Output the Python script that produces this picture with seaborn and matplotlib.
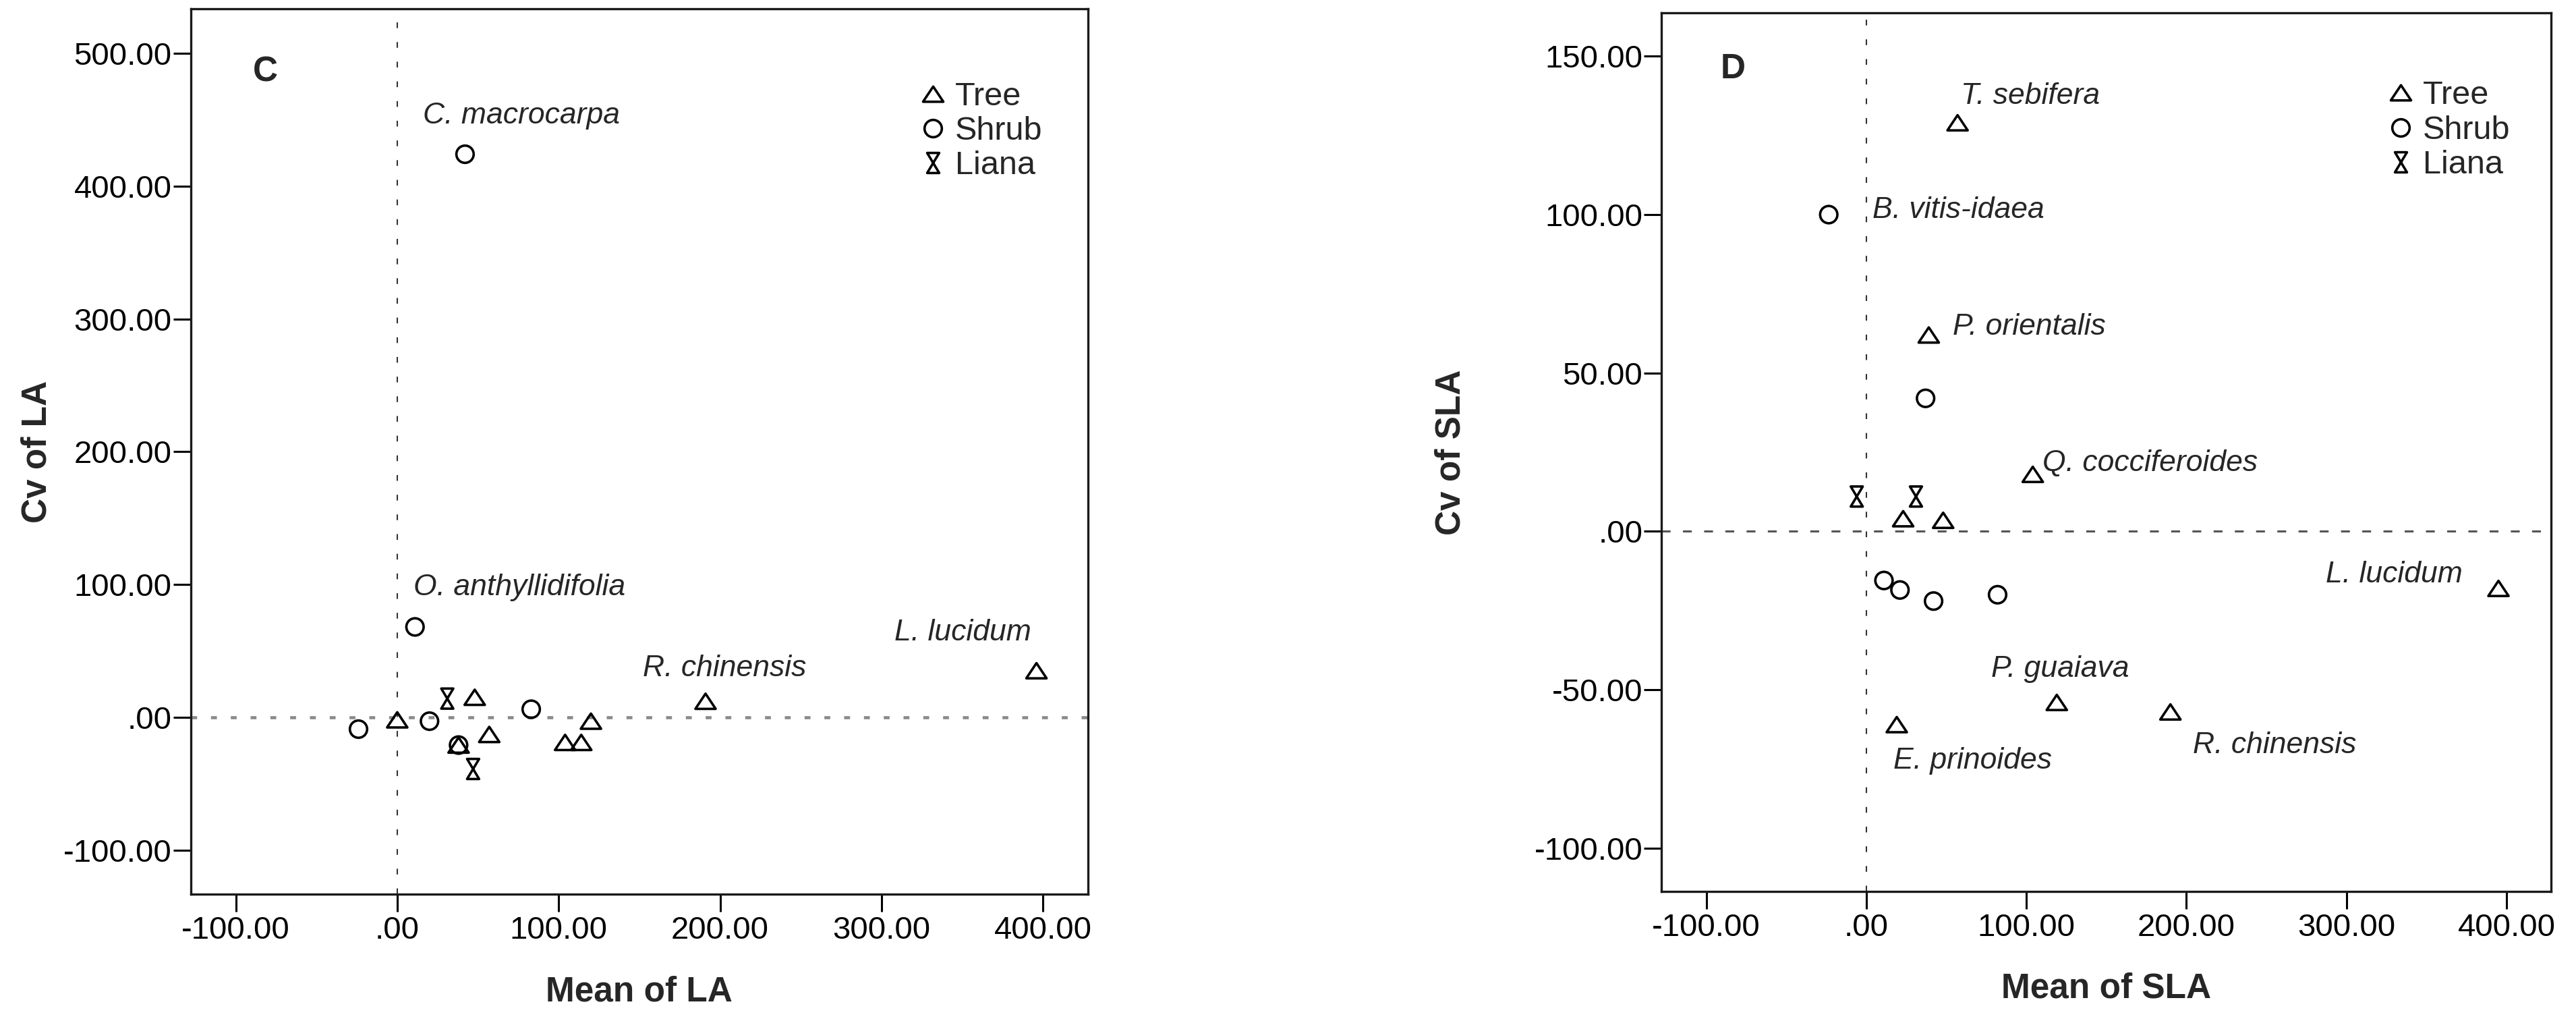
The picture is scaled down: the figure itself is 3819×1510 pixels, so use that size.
import numpy as np
import pandas as pd
import matplotlib
matplotlib.use("Agg")
import matplotlib.pyplot as plt
import seaborn as sns
from matplotlib.path import Path
from matplotlib.lines import Line2D
from matplotlib.ticker import FixedLocator, FuncFormatter

sns.set_theme(style="ticks")
plt.rcParams["font.family"] = ["Liberation Sans", "DejaVu Sans"]

# ---------------- data ----------------
growth_form = ["Tree"] * 9 + ["Shrub"] * 6 + ["Liana"] * 2

la_mean = [0, 48, 120, 57, 38, 104, 114, 191, 396,
           -24, 20, 83, 38, 11, 42,
           31, 47]
la_cv = [-2, 15, -3, -13, -21, -19, -19, 12, 35,
         -9, -3, 6, -21, 68, 424,
         14, -39]

sla_mean = [57, 39, 104, 23, 48, 395, 119, 190, 19,
            -23.5, 37, 11, 21, 42, 82,
            -6, 31]
sla_cv = [129, 62, 18, 4, 3.5, -18, -54, -57, -61,
          100, 42, -15.5, -18.5, -22, -20,
          11, 11]

la_labels = ["C. macrocarpa", "O. anthyllidifolia", "L. lucidum", "R. chinensis"]
la_label_x = [16, 10, 308, 152]
la_label_y = [447, 92, 58, 31]

sla_labels = ["T. sebifera", "B. vitis-idaea", "P. orientalis", "Q. cocciferoides",
              "L. lucidum", "P. guaiava", "R. chinensis", "E. prinoides"]
sla_label_x = [59, 4, 54, 110, 287, 78, 204, 17]
sla_label_y = [135, 99, 62, 19, -16, -46, -70, -75]

legend_order = ["Tree", "Shrub", "Liana"]
x_ticks = [-100, 0, 100, 200, 300, 400]
la_y_ticks = [-100, 0, 100, 200, 300, 400, 500]
sla_y_ticks = [-100, -50, 0, 50, 100, 150]

df_la = pd.DataFrame({"mean": la_mean, "cv": la_cv, "type": growth_form})
df_sla = pd.DataFrame({"mean": sla_mean, "cv": sla_cv, "type": growth_form})

# ---------------- markers ----------------
tri = Path([(-1, -0.75), (1, -0.75), (0, 0.75), (-1, -0.75)],
           [Path.MOVETO, Path.LINETO, Path.LINETO, Path.CLOSEPOLY])
hourglass = Path([(-0.6, 1), (0.6, 1), (-0.6, -1), (0.6, -1), (-0.6, 1)],
                 [Path.MOVETO, Path.LINETO, Path.LINETO, Path.LINETO, Path.CLOSEPOLY])
markers = {"Tree": tri, "Shrub": "o", "Liana": hourglass}
sizes = {"Tree": 470, "Shrub": 340, "Liana": 460}
mew = 2.6


def fmt(v, _):
    s = "%.2f" % v
    if s in ("0.00", "-0.00"):
        return ".00"
    return s


fig = plt.figure(figsize=(38.19, 15.10), dpi=100)
axL = fig.add_axes([0.0740, 0.1225, 0.3484, 0.8687])
axR = fig.add_axes([0.6450, 0.1254, 0.3454, 0.8620])


def draw(ax, df, ylim, yticks, xlabel, ylabel, letter, letter_pos,
         labels, lx, ly, hcolor, hlw, hdash, legend_anchor, ylab_x):
    ax.set_xlim(-128, 428)
    ax.set_ylim(*ylim)
    ax.axvline(0, color="#333333", lw=1.5, dashes=(4.1, 9.9), zorder=1)
    ax.axhline(0, color=hcolor, lw=hlw, dashes=hdash, zorder=1)
    sns.scatterplot(data=df, x="mean", y="cv", style="type", size="type",
                    markers=markers, sizes=sizes, style_order=legend_order,
                    size_order=legend_order, facecolor="none",
                    edgecolor="black", linewidth=mew, legend=False, ax=ax,
                    zorder=3)
    for t, x, y in zip(labels, lx, ly):
        ax.text(x, y, t, fontstyle="italic", fontsize=32, ha="left",
                va="baseline", zorder=4)
    ax.text(letter_pos[0], letter_pos[1], letter, transform=ax.transAxes,
            fontsize=37, fontweight="bold", ha="center", va="center")
    ax.xaxis.set_major_locator(FixedLocator(x_ticks))
    ax.yaxis.set_major_locator(FixedLocator(yticks))
    ax.xaxis.set_major_formatter(FuncFormatter(fmt))
    ax.yaxis.set_major_formatter(FuncFormatter(fmt))
    ax.tick_params(axis="both", direction="out", length=18.7, width=2.2,
                   labelsize=34, colors="black", bottom=True, left=True)
    ax.tick_params(axis="x", pad=4.3)
    ax.tick_params(axis="y", pad=1.5)
    for sp in ax.spines.values():
        sp.set_visible(True)
        sp.set_linewidth(2.4)
        sp.set_color("#1a1a1a")
    ax.set_xlabel(xlabel, fontsize=37, fontweight="bold")
    ax.set_ylabel(ylabel, fontsize=37, fontweight="bold")
    ax.xaxis.set_label_coords(0.5, -0.092)
    ax.yaxis.set_label_coords(ylab_x, 0.5)
    handles = [Line2D([], [], ls="none", marker=markers[k],
                      ms=np.sqrt(sizes[k]), mfc="none", mec="black", mew=mew)
               for k in legend_order]
    ax.legend(handles, legend_order, loc="upper left",
              bbox_to_anchor=legend_anchor, frameon=False, fontsize=35,
              handlelength=0.8, handletextpad=0.27, labelspacing=0.13,
              borderpad=0, borderaxespad=0)


draw(axL, df_la, (-133.3, 533.4), la_y_ticks, "Mean of LA", "Cv of LA", "C",
     (0.083, 0.9286), la_labels, la_label_x, la_label_y,
     "#8a8a8a", 3.3, (1.9, 4.5), (0.8127, 0.918), -0.153)
draw(axR, df_sla, (-113.6, 163.7), sla_y_ticks, "Mean of SLA", "Cv of SLA", "D",
     (0.080, 0.9359), sla_labels, sla_label_x, sla_label_y,
     "#555555", 2.2, (4.3, 6.0), (0.816, 0.923), -0.218)

fig.savefig("out.png", dpi=100, facecolor="white")
